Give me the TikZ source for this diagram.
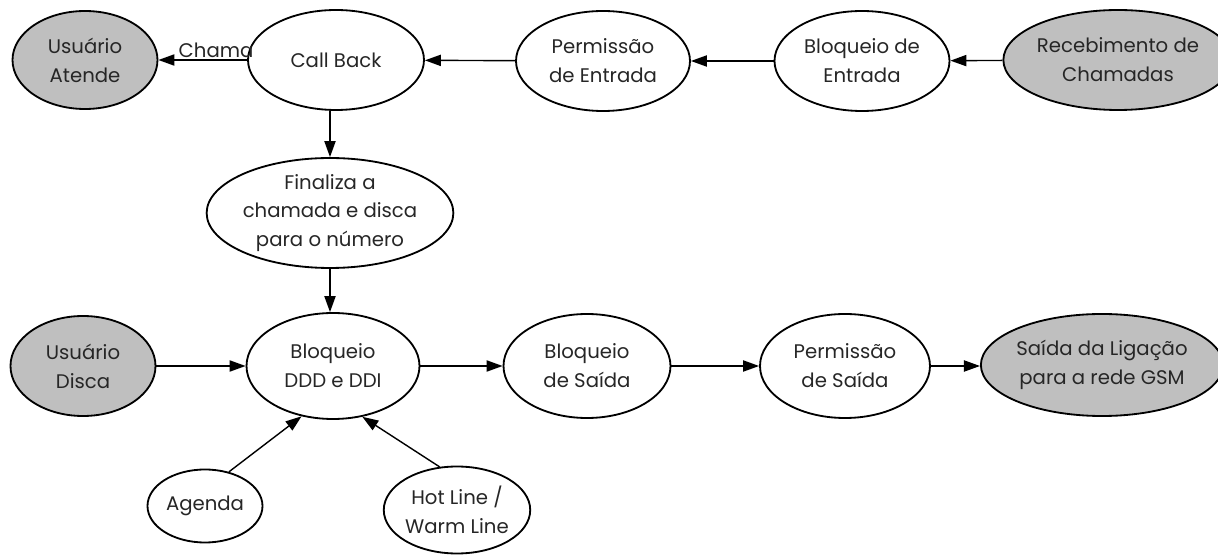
\documentclass[tikz,border=0pt]{standalone}
\usepackage{fontspec}
\setmainfont{Poppins}
\usetikzlibrary{shapes.geometric,arrows.meta}
\tikzset{
    etapa/.style={ellipse,draw,line width=1.3pt,inner sep=0pt,align=center,
        text=black!85,font=\fontsize{14}{20.5}\selectfont},
    usuario/.style={etapa,fill=black!25},
    seta/.style={-{Triangle[length=0.4cm,width=0.28cm]},line width=1pt}
}
\begin{document}
\begin{tikzpicture}[x=0.025cm,y=-0.025cm]
                \useasboundingbox (0,0) rectangle (1218,556);
                \node[usuario,minimum width=145*0.025cm,minimum height=98*0.025cm] (atende) at (85,60) {Usuário\\Atende};
                \node[etapa,minimum width=176*0.025cm,minimum height=100*0.025cm] (callback) at (336,60) {Call Back};
                \node[etapa,minimum width=174*0.025cm,minimum height=100*0.025cm] (permentrada) at (603,61) {Permissão\\de Entrada};
                \node[etapa,minimum width=175*0.025cm,minimum height=100*0.025cm] (bloqentrada) at (862,61) {Bloqueio de\\Entrada};
                \node[usuario,minimum width=167*0.025cm,minimum height=100*0.025cm] (recebe) at (1118,60) {Recebimento de\\Chamadas};
                \node[etapa,minimum width=235*0.025cm,minimum height=106*0.025cm] (finaliza) at (330,213) {Finaliza a\\chamada e disca\\para o número};
                \node[usuario,minimum width=145*0.025cm,minimum height=100*0.025cm] (disca) at (83,366) {Usuário\\Disca};
                \node[etapa,minimum width=173*0.025cm,minimum height=106*0.025cm] (ddd) at (333,366) {Bloqueio\\DDD e DDI};
                \node[etapa,minimum width=167*0.025cm,minimum height=104*0.025cm] (bloqsaida) at (587,366) {Bloqueio\\de Saída};
                \node[etapa,minimum width=170*0.025cm,minimum height=104*0.025cm] (permsaida) at (845,366) {Permissão\\de Saída};
                \node[usuario,minimum width=229*0.025cm,minimum height=102*0.025cm] (gsm) at (1102,365) {Saída da Ligação\\para a rede GSM};
                \node[etapa,minimum width=115*0.025cm,minimum height=73*0.025cm] (agenda) at (205,506) {Agenda};
                \node[etapa,minimum width=127*0.025cm,minimum height=87*0.025cm] (hotline) at (457,510) {Hot Line /\\Warm Line};
                \draw[seta] (recebe) -- (bloqentrada);
                \draw[seta] (bloqentrada) -- (permentrada);
                \draw[seta] (permentrada) -- (callback);
                \draw[seta] (callback) -- node[above,pos=0.35,inner sep=1pt,font=\fontsize{14}{16}\selectfont,text=black!85] (chama) {Chama} (atende);
                \draw[seta] (callback.south -| finaliza.north) -- (finaliza.north);
                \draw[seta] (finaliza.south) -- (ddd.north -| finaliza.south);
                \draw[seta] (disca) -- (ddd);
                \draw[seta] (ddd) -- (bloqsaida);
                \draw[seta] (bloqsaida) -- (permsaida);
                \draw[seta] (permsaida.east) -- (gsm.west |- permsaida.east);
                \draw[seta] (agenda.55) -- (ddd.238);
                \draw[seta] (hotline.112) -- (ddd.300);
            \end{tikzpicture}
\end{document}
